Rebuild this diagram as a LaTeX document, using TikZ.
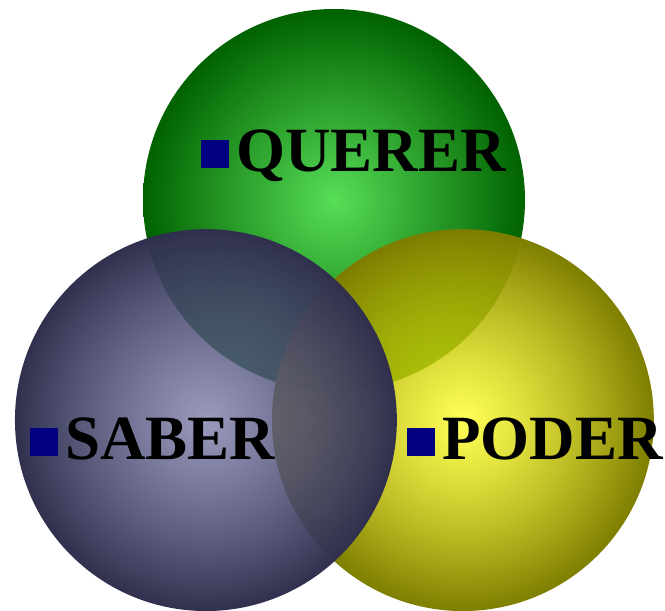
\documentclass[tikz,border=0pt]{standalone}
\usepackage{fontspec}
\setmainfont{Liberation Serif}
\usepackage{tikz}
\usetikzlibrary{fadings}

\definecolor{qgreenin}{RGB}{88,222,88}
\definecolor{qgreenout}{RGB}{0,98,0}
\definecolor{pyellowin}{RGB}{255,255,15}
\definecolor{pyellowout}{RGB}{125,125,0}
\definecolor{sbluein}{RGB}{110,110,160}
\definecolor{sblueout}{RGB}{48,48,78}
\definecolor{bulletblue}{RGB}{0,0,128}

\tikzfading[name=glassfade, inner color=transparent!30, outer color=transparent!0]

\newcommand{\sqbullet}{\textcolor{bulletblue}{\rule[4pt]{28pt}{28pt}}\hspace{7pt}}

\begin{document}
\begin{tikzpicture}[
  x=1pt, y=1pt,
  sphere/.style={circle, minimum size=382pt, inner sep=0pt},
  word/.style={anchor=base west, inner sep=0pt,
    font=\fontsize{63}{63}\selectfont\bfseries}
]
\useasboundingbox (0,0) rectangle (665,611);
% the three spheres
\node[sphere, inner color=qgreenin, outer color=qgreenout] (querer) at (334,411) {};
\node[sphere, inner color=pyellowin, outer color=pyellowout, path fading=glassfade] (poder) at (463,191) {};
\node[sphere, inner color=sbluein, outer color=sblueout, path fading=glassfade] (saber) at (206,191) {};
% labels
\node[word] (querertxt) at (201,439) {\sqbullet QUERER};
\node[word] (sabertxt) at (30,151) {\sqbullet SABER};
\node[word] (podertxt) at (407,151) {\sqbullet PODER};
\end{tikzpicture}
\end{document}
